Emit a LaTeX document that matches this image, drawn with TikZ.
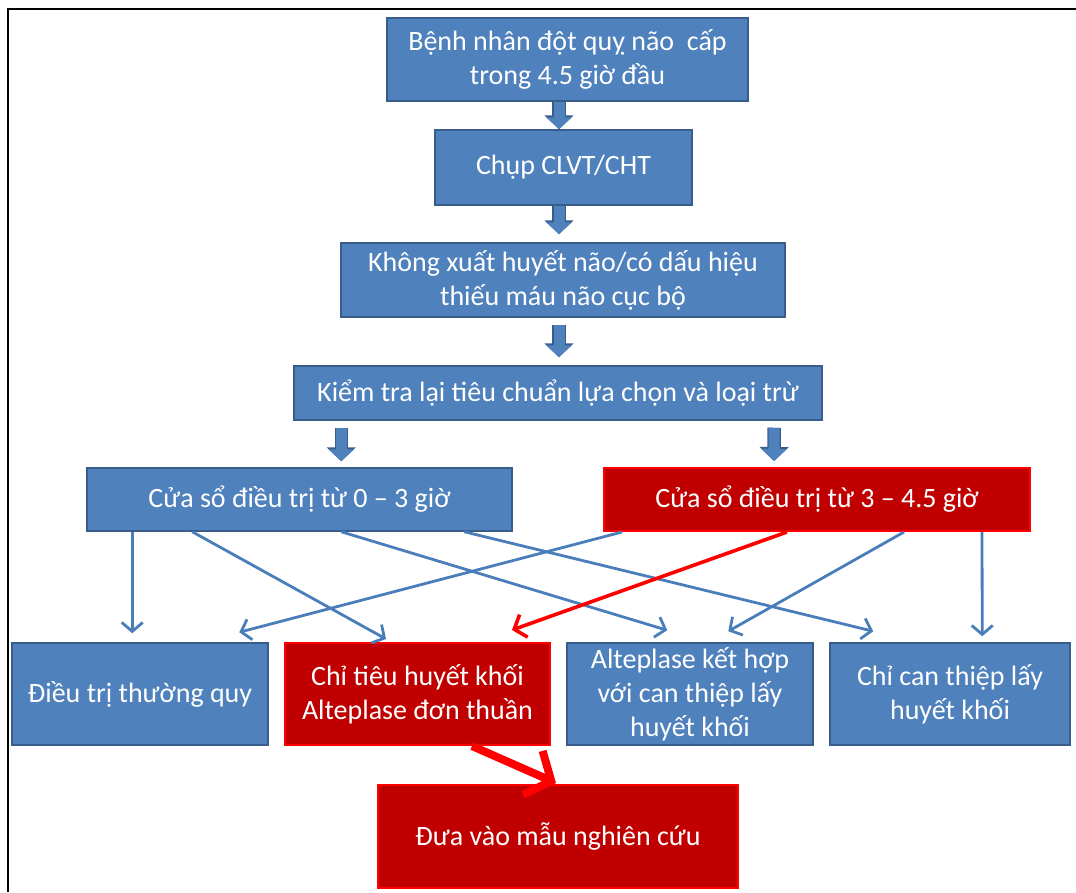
\documentclass[tikz,border=0pt]{standalone}
\usepackage{fontspec}
\setmainfont{Carlito}
\usetikzlibrary{arrows.meta, positioning}
\definecolor{boxblue}{HTML}{4F81BD}
\definecolor{boxline}{HTML}{385D8A}
\definecolor{linkblue}{HTML}{4A7EBB}
\definecolor{boxred}{HTML}{C00000}
\definecolor{linkred}{HTML}{FF0000}

\begin{document}
\begin{tikzpicture}[
        x=1pt, y=-1pt,
        every node/.style={align=center, text=white, inner sep=2pt, font=\fontsize{28}{34}\selectfont},
        bluebox/.style={draw=boxline, fill=boxblue, line width=1.5pt},
        redbox/.style={draw=linkred, fill=boxred, line width=2pt},
        fat/.style={draw=boxblue, line width=11pt, -{Triangle[width=25pt,length=12pt]},
            preaction={draw=boxline, line width=13.5pt, -{Triangle[width=28.5pt,length=14pt]}}},
        thin/.style={draw=linkblue, line width=2.8pt, -{Straight Barb[length=9pt,width=21pt]}},
        hot/.style={draw=linkred, line width=3.6pt, -{Straight Barb[length=10pt,width=24pt]}},
        hotfat/.style={draw=linkred, line width=8pt, -{Straight Barb[length=20pt,width=48pt]}}
    ]
      \useasboundingbox (0,0) rectangle (1076,892);
      \draw[line width=2.2pt] (8,892) -- (8,9) -- (1076,9);

      \node[bluebox, minimum width=361pt, minimum height=83pt] (stroke) at (567.5,59.5) {Bệnh nhân đột quỵ não~ cấp\\trong 4.5 giờ đầu};
      \node[bluebox, minimum width=257pt, minimum height=75pt] (scan) at (563.5,167.5) {Chụp CLVT/CHT};
      \node[bluebox, minimum width=444pt, minimum height=74pt] (nobleed) at (563,280) {Không xuất huyết não/có dấu hiệu\\thiếu máu não cục bộ};
      \node[bluebox, minimum width=528pt, minimum height=54pt] (recheck) at (558,393) {Kiểm tra lại tiêu chuẩn lựa chọn và loại trừ};
      \node[bluebox, minimum width=425pt, minimum height=63pt] (win03) at (299.5,499.5) {Cửa sổ điều trị từ 0 -- 3 giờ};
      \node[redbox, minimum width=426pt, minimum height=63pt] (win345) at (817,499.5) {Cửa sổ điều trị từ 3 -- 4.5 giờ};
      \node[bluebox, minimum width=256pt, minimum height=102pt] (routine) at (140,694) {Điều trị thường quy};
      \node[redbox, minimum width=265pt, minimum height=102pt] (tpa) at (417.5,694) {Chỉ tiêu huyết khối\\Alteplase đơn thuần};
      \node[bluebox, minimum width=246pt, minimum height=102pt] (combo) at (690,694) {Alteplase kết hợp\\với can thiệp lấy\\huyết khối};
      \node[bluebox, minimum width=240pt, minimum height=102pt] (thromb) at (950,694) {Chỉ can thiệp lấy\\huyết khối};
      \node[redbox, minimum width=360pt, minimum height=103pt] (study) at (558,836.5) {Đưa vào mẫu nghiên cứu};

      \draw[fat] ([xshift=-8.5pt]stroke.south) -- ([xshift=-4.5pt]scan.north);
      \draw[fat, shorten >=8pt] ([xshift=-4.5pt]scan.south) -- ([xshift=-4pt]nobleed.north);
      \draw[fat, shorten <=7pt, shorten >=8pt] ([xshift=-4pt]nobleed.south) -- ([xshift=1pt]recheck.north);
      \draw[fat, shorten <=7pt, shorten >=6pt] ([xshift=48pt]recheck.south west) -- ([xshift=255pt]win03.north west);
      \draw[fat, shorten <=7pt, shorten >=6pt] ([xshift=481pt]recheck.south west) -- ([xshift=171pt]win345.north west);

      \draw[thin] ([xshift=46pt]win03.south west) -- ([xshift=121pt, yshift=9pt]routine.north west);
      \draw[thin] ([xshift=106pt]win03.south west) -- ([xshift=102pt, yshift=3pt]tpa.north west);
      \draw[thin] ([xshift=255pt]win03.south west) -- ([xshift=101pt, yshift=12pt]combo.north west);
      \draw[thin] ([xshift=378pt]win03.south west) -- ([xshift=44pt, yshift=11pt]thromb.north west);
      \draw[thin] ([xshift=19pt]win345.south west) -- ([xshift=228pt, yshift=10pt]routine.north west);
      \draw[hot] ([xshift=184pt]win345.south west) -- ([xshift=228pt, yshift=12pt]tpa.north west);
      \draw[thin] ([xshift=301pt]win345.south west) -- ([xshift=162pt, yshift=11pt]combo.north west);
      \draw[thin] ([xshift=379pt]win345.south west) -- ([xshift=153pt, yshift=6pt]thromb.north west);
      \draw[hotfat] ([xshift=188pt]tpa.south west) -- ([xshift=179pt, yshift=1pt]study.north west);
    \end{tikzpicture}
\end{document}
